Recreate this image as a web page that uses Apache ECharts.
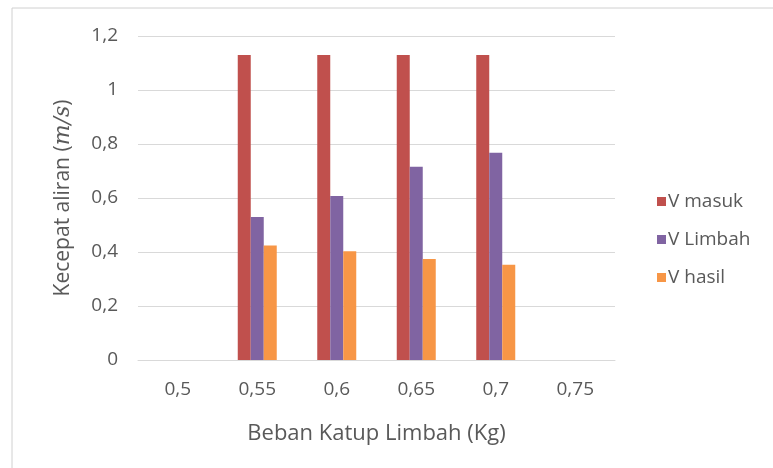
<!DOCTYPE html>
<html>
<head>
<meta charset="utf-8">
<script src="https://cdn.jsdelivr.net/npm/echarts@6/dist/echarts.min.js"></script>
<style>
  html, body { margin: 0; padding: 0; background: #fff; }
  #chart { width: 773px; height: 468px; }
</style>
</head>
<body>
<div id="chart"></div>
<script>
// Beban katup limbah (kg) on the x axis
const categories = ['0,5', '0,55', '0,6', '0,65', '0,7', '0,75'];
// Flow velocities (m/s); no measurements at 0,5 and 0,75
const vMasuk  = [null, 1.13, 1.13, 1.13, 1.13, null];
const vLimbah = [null, 0.53, 0.607, 0.716, 0.768, null];
const vHasil  = [null, 0.424, 0.403, 0.374, 0.353, null];
const seriesNames = ['V masuk', 'V Limbah', 'V hasil'];
const seriesColors = ['#C0504D', '#8064A2', '#F79646'];

const textColor = '#595959';
const fontFamily = '"Open Sans", "Noto Sans", sans-serif';
const tickSize = 19;
const titleSize = 22;

const chart = echarts.init(document.getElementById('chart'));
const values = [vMasuk, vLimbah, vHasil];

chart.setOption({
  animation: false,
  backgroundColor: '#fff',
  textStyle: { fontFamily: fontFamily, color: textColor },
  graphic: [{
    type: 'rect',
    shape: { x: 12, y: 8, width: 800, height: 500 },
    style: { fill: 'none', stroke: '#d0d0d0', lineWidth: 1 },
    silent: true
  }],
  grid: { left: 138, right: 158, top: 36, bottom: 108 },
  legend: {
    orient: 'vertical',
    left: 652,
    top: 187,
    itemGap: 19,
    itemWidth: 9,
    itemHeight: 9,
    icon: 'rect',
    textStyle: { fontSize: tickSize, color: textColor, fontFamily: fontFamily, padding: [0, 0, 0, -3] },
    data: seriesNames
  },
  xAxis: {
    type: 'category',
    data: categories,
    name: 'Beban Katup Limbah (Kg)',
    nameLocation: 'middle',
    nameGap: 63,
    nameTextStyle: { fontSize: titleSize, color: textColor },
    axisLine: { lineStyle: { color: '#d9d9d9' } },
    axisTick: { show: false },
    axisLabel: { fontSize: tickSize, color: textColor, margin: 20 }
  },
  yAxis: {
    type: 'value',
    min: 0,
    max: 1.2,
    interval: 0.2,
    name: '{a|Kecepat aliran (}{i|m/s}{a|)}',
    nameLocation: 'middle',
    nameGap: 64,
    nameRotate: 90,
    nameTextStyle: {
      rich: {
        a: { fontSize: titleSize - 1, color: textColor, fontFamily: fontFamily },
        i: { fontSize: titleSize, color: textColor, fontFamily: '"DejaVu Serif", serif', fontStyle: 'italic' }
      }
    },
    axisLine: { show: false },
    axisTick: { show: false },
    splitLine: { lineStyle: { color: '#d9d9d9' } },
    axisLabel: {
      fontSize: tickSize,
      color: textColor,
      margin: 20,
      formatter: v => String(Math.round(v * 10) / 10).replace('.', ',')
    }
  },
  series: seriesNames.map((name, i) => ({
    name: name,
    type: 'bar',
    data: values[i],
    barWidth: 13,
    barGap: '0%',
    itemStyle: { color: seriesColors[i] }
  }))
});
</script>
</body>
</html>
